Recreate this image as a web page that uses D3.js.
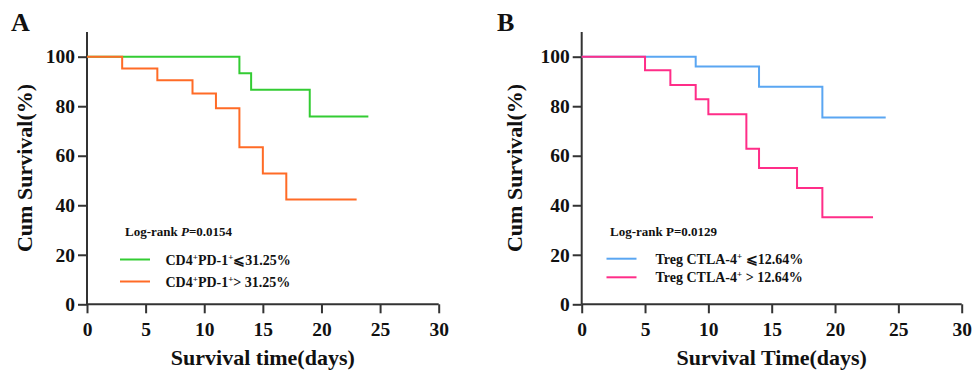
<!DOCTYPE html>
<html><head><meta charset="utf-8">
<script src="https://cdn.jsdelivr.net/npm/d3@7"></script>
<style>body{margin:0;background:#fff}svg{display:block}text{font-family:"Liberation Serif","Times New Roman",serif;font-weight:bold;fill:#111}</style>
</head><body><svg id="c" width="972" height="373"></svg>
<script>
// Panel A data (time in days, survival %)
const aGreenTimes = [0, 13, 14, 19, 24];
const aGreenSurv  = [100, 93.3, 86.7, 75.8, 75.8];
const aOrangeTimes = [0, 3, 6, 9, 11, 13, 15, 17, 23];
const aOrangeSurv  = [100, 95.2, 90.5, 85.1, 79.2, 63.4, 52.8, 42.3, 42.3];
// Panel B data
const bBlueTimes = [0, 9, 14, 19, 24];
const bBlueSurv  = [100, 96.0, 87.9, 75.4, 75.4];
const bPinkTimes = [0, 5, 7, 9, 10, 13, 14, 17, 19, 23];
const bPinkSurv  = [100, 94.5, 88.6, 82.8, 76.8, 62.8, 55.0, 47.0, 35.2, 35.2];
const xTicks = [0, 5, 10, 15, 20, 25, 30];
const yTicks = [0, 20, 40, 60, 80, 100];

const svg = d3.select("#c");

function panel(cfg){
  const g = svg.append("g");
  const x = d3.scaleLinear().domain([0,30]).range([cfg.x0, cfg.x1]);
  const y = d3.scaleLinear().domain([0,100]).range([304.3, 56.7]);
  // axes
  const ya = d3.axisLeft(y).tickValues(yTicks).tickSize(9).tickPadding(3);
  const yg = g.append("g").attr("transform",`translate(${cfg.x0},0)`).call(ya);
  yg.select(".domain").attr("d",`M-0,${y(110)}V${y(0)}`);
  const xa = d3.axisBottom(x).tickValues(xTicks).tickSize(9).tickPadding(9);
  const xg = g.append("g").attr("transform",`translate(0,${y(0)})`).call(xa);
  xg.select(".domain").attr("d",`M${cfg.x0},0H${cfg.x1}`);
  [yg,xg].forEach(s=>{
    s.selectAll(".domain").attr("stroke","#333").attr("stroke-width",2);
    s.selectAll(".tick line").attr("stroke","#333").attr("stroke-width",2);
    s.selectAll(".tick text").style("font-size","19.5px").attr("fill","#111");
  });
  // curves
  const line = d3.line().x(d=>x(d[0])).y(d=>y(d[1])).curve(d3.curveStepAfter);
  cfg.series.forEach(s=>{
    g.append("path").datum(d3.zip(s.t, s.v)).attr("d", line)
      .attr("fill","none").attr("stroke", s.color).attr("stroke-width",2);
  });
  // labels
  g.append("text").attr("x",cfg.letterX).attr("y",31).style("font-size","26px").text(cfg.letter);
  g.append("text").attr("transform",`translate(${cfg.ylabX},168) rotate(-90)`)
    .attr("text-anchor","middle").style("font-size","22px").text("Cum Survival(%)");
  g.append("text").attr("x",(cfg.x0+cfg.x1)/2).attr("y",365).attr("text-anchor","middle")
    .style("font-size","22px").text(cfg.xlab);
  // log-rank
  const lr = g.append("text").attr("x",cfg.lrX).attr("y",236).style("font-size","13px");
  lr.append("tspan").text("Log-rank ");
  lr.append("tspan").style("font-style",cfg.italicP?"italic":"normal").text("P");
  lr.append("tspan").text("="+cfg.p);
  // legend
  cfg.series.forEach((s,i)=>{
    const ly = cfg.legY[i];
    g.append("line").attr("x1",cfg.legX).attr("x2",cfg.legX+30).attr("y1",ly).attr("y2",ly)
      .attr("stroke",s.color).attr("stroke-width",2);
    const t = g.append("text").attr("x",cfg.legTX).attr("y",ly+5).style("font-size","14px");
    s.label.forEach(p=>{
      const ts = t.append("tspan").text(p.t);
      if(p.sup){ ts.attr("dy",-5).style("font-size","9px"); }
      else if(p.after){ ts.attr("dy",5); }
    });
  });
}

panel({x0:87, x1:438.7, letter:"A", letterX:11, ylabX:32, xlab:"Survival time(days)",
  lrX:125, p:"0.0154", italicP:true, legX:120, legTX:165.5, legY:[259.5,281.5],
  series:[
    {t:aGreenTimes, v:aGreenSurv, color:"#33cc33",
     label:[{t:"CD4"},{t:"+",sup:true},{t:"PD-1",after:true},{t:"+",sup:true},{t:"⩽31.25%",after:true}]},
    {t:aOrangeTimes, v:aOrangeSurv, color:"#ff6b26",
     label:[{t:"CD4"},{t:"+",sup:true},{t:"PD-1",after:true},{t:"+",sup:true},{t:"> 31.25%",after:true}]}
  ]});
panel({x0:581.7, x1:961.7, letter:"B", letterX:497, ylabX:522, xlab:"Survival Time(days)",
  lrX:610, p:"0.0129", italicP:false, legX:606.5, legTX:655.5, legY:[258.7,277.3],
  series:[
    {t:bBlueTimes, v:bBlueSurv, color:"#5aa6f2",
     label:[{t:"Treg CTLA-4"},{t:"+",sup:true},{t:" ⩽12.64%",after:true}]},
    {t:bPinkTimes, v:bPinkSurv, color:"#ff2d88",
     label:[{t:"Treg CTLA-4"},{t:"+",sup:true},{t:" > 12.64%",after:true}]}
  ]});
</script></body></html>
